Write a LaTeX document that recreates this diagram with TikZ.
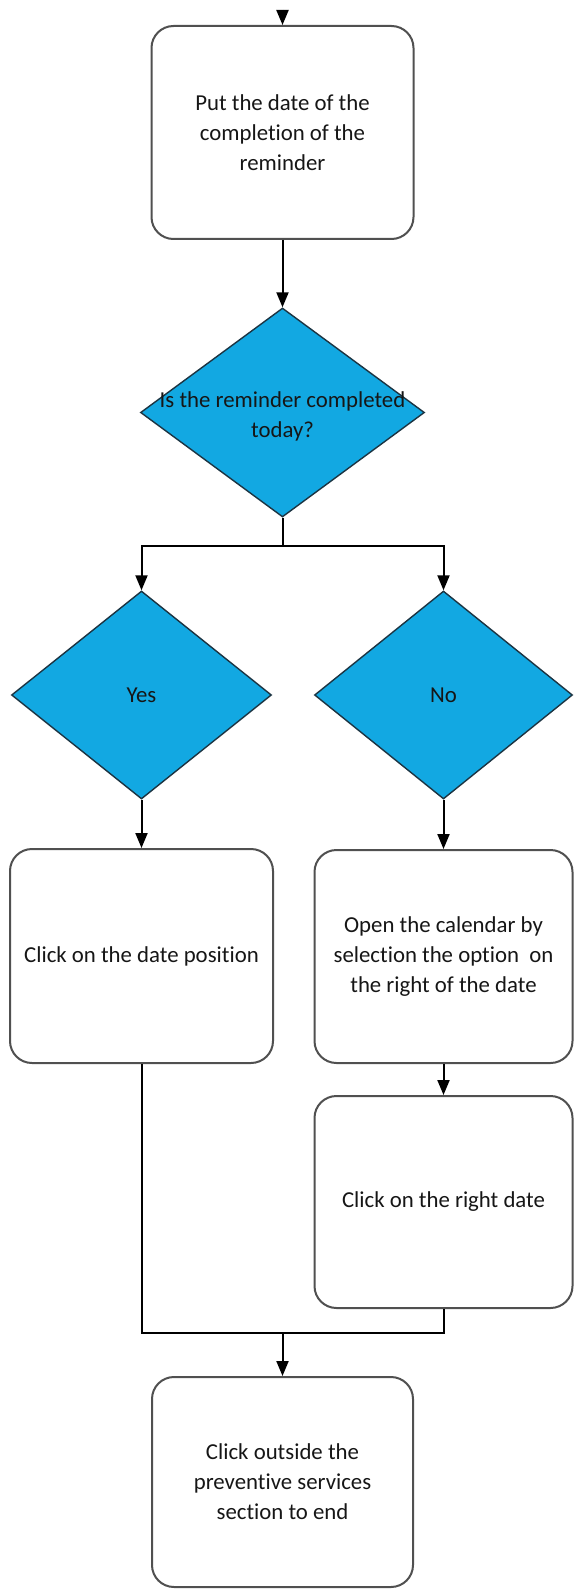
\documentclass[tikz,border=0pt]{standalone}
\usepackage{fontspec}
\setmainfont[RawFeature=-liga]{Carlito}
\usetikzlibrary{arrows.meta,shapes.geometric}
\definecolor{decfill}{HTML}{12A8E2}
\definecolor{decline}{HTML}{1C3442}
\definecolor{boxline}{HTML}{505050}
\definecolor{txt}{HTML}{161616}
\begin{document}
\begin{tikzpicture}[x=1pt,y=-1pt,
  font=\fontsize{22.8}{30}\selectfont,
  stepbox/.style={draw=boxline, line width=2pt, rounded corners=22pt, fill=white,
    minimum width=262pt, minimum height=213pt, align=center, text=txt, inner sep=0pt},
  decision/.style={diamond, draw=decline, line width=1.4pt, fill=decfill,
    inner sep=0pt, text=txt},
  flow/.style={draw=black, line width=2pt, -{Triangle[width=12pt,length=15pt]}},
  link/.style={draw=black, line width=2pt}]

% canvas
\fill[white] (0,0) rectangle (574,1589);
\useasboundingbox (0,0) rectangle (574,1589);

% steps and decisions
\coordinate (in) at (282.5,10);
\node[stepbox] (put) at (282.5,132.5) {Put the date of the\\completion of the\\reminder};
\node[decision, minimum width=284pt, minimum height=209pt,
  label={[align=center, text=txt, yshift=-4pt]center:Is the reminder completed\\today?}]
  (today) at (282.5,412.5) {};
\coordinate (split) at (282.5,545.7);
\node[decision, minimum width=260pt, minimum height=208pt] (yes) at (141.5,695) {Yes};
\node[decision, minimum width=258pt, minimum height=208pt] (no) at (443.5,695) {No};
\node[stepbox, minimum width=263pt, minimum height=214pt] (clickpos) at (141.5,956) {Click on the date position};
\node[stepbox, minimum width=258pt, minimum height=213pt] (calendar) at (443.5,956.5)
  {Open the calendar by\\selection the option~ on\\the right of the date};
\node[stepbox, minimum width=258pt, minimum height=212pt] (rightdate) at (443.5,1202) {Click on the right date};
\coordinate (merge) at (282.5,1333);
\node[stepbox, minimum width=261pt, minimum height=210pt] (finish) at (282.5,1482)
  {Click outside the\\preventive services\\section to end};

% connectors
\draw[flow] (in) -- (put);
\draw[flow] (put) -- (today);
\draw[link] (today.south) -- (split);
\draw[flow] (split) -| (yes.north);
\draw[flow] (split) -| (no.north);
\draw[flow] (yes) -- (clickpos);
\draw[flow] (no) -- (calendar);
\draw[flow] (calendar) -- (rightdate);
\draw[link] (clickpos.south) |- (merge) -| (rightdate.south);
\draw[flow] (merge) -- (finish);
\end{tikzpicture}
\end{document}
